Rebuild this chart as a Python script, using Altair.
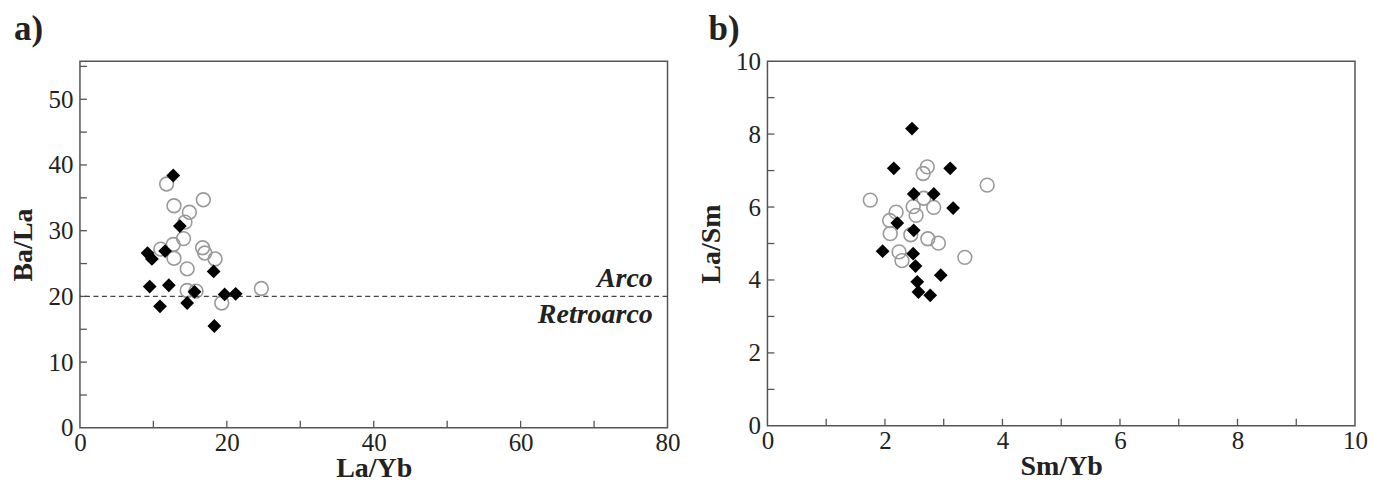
import altair as alt
import pandas as pd

# ---- Panel a: La/Yb vs Ba/La ----
filled_a_x = [12.7, 13.6, 9.2, 9.8, 11.6, 18.2, 9.5, 12.1, 10.9, 15.6, 14.6, 19.7, 21.2, 18.3]
filled_a_y = [38.4, 30.7, 26.6, 25.7, 26.9, 23.8, 21.5, 21.7, 18.5, 20.7, 19.0, 20.3, 20.4, 15.5]
open_a_x = [11.8, 16.8, 12.8, 14.9, 14.3, 14.1, 12.7, 11.0, 16.7, 17.0, 18.4, 12.8, 14.6, 14.6, 15.8, 19.3, 24.7]
open_a_y = [37.1, 34.7, 33.8, 32.8, 31.3, 28.8, 27.9, 27.2, 27.4, 26.6, 25.7, 25.8, 24.2, 20.9, 20.8, 19.0, 21.2]

# ---- Panel b: Sm/Yb vs La/Sm ----
filled_b_x = [2.46, 2.15, 3.11, 2.49, 2.83, 3.16, 2.21, 2.49, 1.96, 2.48, 2.52, 2.95, 2.55, 2.57, 2.77]
filled_b_y = [8.15, 7.06, 7.06, 6.36, 6.36, 5.97, 5.56, 5.36, 4.79, 4.72, 4.38, 4.13, 3.95, 3.67, 3.58]
open_b_x = [2.72, 2.65, 3.74, 1.75, 2.66, 2.48, 2.83, 2.19, 2.53, 2.08, 2.09, 2.44, 2.73, 2.91, 2.24, 2.29, 3.36]
open_b_y = [7.10, 6.92, 6.60, 6.19, 6.24, 6.01, 5.99, 5.86, 5.77, 5.63, 5.27, 5.24, 5.13, 5.01, 4.77, 4.53, 4.62]

# axis ticks / labels
a_x_labels = [0, 20, 40, 60, 80]
a_x_ticks = [10, 20, 30, 40, 50, 60, 70]
a_y_labels = [0, 10, 20, 30, 40, 50]
a_y_ticks = [5, 10, 15, 20, 25, 30, 35, 40, 45, 50, 55]
b_x_labels = [0, 2, 4, 6, 8, 10]
b_x_ticks = [1, 2, 3, 4, 5, 6, 7, 8, 9]
b_y_labels = [0, 2, 4, 6, 8, 10]
b_y_ticks = [1, 2, 3, 4, 5, 6, 7, 8, 9]

# reference line and annotations (panel a)
boundary_y = [20]
ann_text = ["Arco", "Retroarco"]
ann_x = [78.0, 78.0]
ann_y = [21.4, 15.9]

panel_labels = ["a)", "b)"]

FONT = "Liberation Serif"
INK = "#222222"
AXC = "#555555"
TICK = 7


def panel(fx, fy, ox, oy, xdom, ydom, xlab, xtk, ylab, ytk, xtitle, ytitle,
          w, h, label, label_dx, extra=None):
    xs = alt.Scale(domain=xdom, nice=False, zero=False)
    ys = alt.Scale(domain=ydom, nice=False, zero=False)
    xax = alt.Axis(values=xlab, ticks=False, domain=False, grid=False,
                   labelFont=FONT, labelFontSize=25, labelColor=INK, labelPadding=3,
                   labelFlush=False, labelOverlap=False,
                   title=xtitle, titleFont=FONT, titleFontSize=28, titleFontWeight="bold",
                   titleColor=INK, titlePadding=-1)
    yax = alt.Axis(values=ylab, ticks=False, domain=False, grid=False,
                   labelFont=FONT, labelFontSize=25, labelColor=INK, labelPadding=7,
                   labelFlush=False, labelOverlap=False,
                   title=ytitle, titleFont=FONT, titleFontSize=28, titleFontWeight="bold",
                   titleColor=INK, titlePadding=10)
    X = lambda: alt.X("x:Q", scale=xs, axis=xax)
    Y = lambda: alt.Y("y:Q", scale=ys, axis=yax)

    df_f = pd.DataFrame({"x": fx, "y": fy})
    df_o = pd.DataFrame({"x": ox, "y": oy})
    filled = alt.Chart(df_f).mark_point(shape="diamond", filled=True, color="#000000",
                                        size=190, opacity=1).encode(x=X(), y=Y())
    opened = alt.Chart(df_o).mark_point(shape="circle", filled=False, color="#9a9a9a",
                                        strokeWidth=1.6, size=190, opacity=1).encode(x=X(), y=Y())
    xt = alt.Chart(pd.DataFrame({"x": xtk})).mark_rule(color=AXC, strokeWidth=1.3).encode(
        x=X(), y=alt.value(h - TICK), y2=alt.value(h))
    yt = alt.Chart(pd.DataFrame({"y": ytk})).mark_rule(color=AXC, strokeWidth=1.3).encode(
        y=Y(), x=alt.value(0), x2=alt.value(TICK))
    lab = alt.Chart(pd.DataFrame({"t": [label]})).mark_text(
        font=FONT, fontSize=35, fontWeight="bold", color=INK, align="left",
        baseline="alphabetic").encode(text="t:N", x=alt.value(label_dx), y=alt.value(-21))
    layers = [xt, yt, lab]
    if extra is not None:
        layers += extra(X, Y)
    layers += [opened, filled]
    return alt.layer(*layers).properties(width=w, height=h)


def extra_a(X, Y):
    line = alt.Chart(pd.DataFrame({"y": boundary_y})).mark_rule(
        color="#444444", strokeWidth=1.3, strokeDash=[5, 3.5]).encode(y=Y())
    txt = alt.Chart(pd.DataFrame({"x": ann_x, "y": ann_y, "t": ann_text})).mark_text(
        font=FONT, fontSize=28, fontWeight="bold", fontStyle="italic", align="right",
        baseline="alphabetic", color=INK).encode(x=X(), y=Y(), text="t:N")
    return [line, txt]


pa = panel(filled_a_x, filled_a_y, open_a_x, open_a_y, [0, 80], [0, 55.8],
           a_x_labels, a_x_ticks, a_y_labels, a_y_ticks, "La/Yb", "Ba/La",
           588, 367, panel_labels[0], -66, extra_a)
pb = panel(filled_b_x, filled_b_y, open_b_x, open_b_y, [0, 10], [0, 10],
           b_x_labels, b_x_ticks, b_y_labels, b_y_ticks, "Sm/Yb", "La/Sm",
           588, 365, panel_labels[1], -59)

chart = alt.hconcat(pa, pb, spacing=15).properties(
    padding={"left": 1, "top": 3, "right": 0, "bottom": 0}
).configure_view(stroke=AXC, strokeWidth=1.5)

chart.save("out.html", embed_options={"renderer": "svg", "actions": False})
